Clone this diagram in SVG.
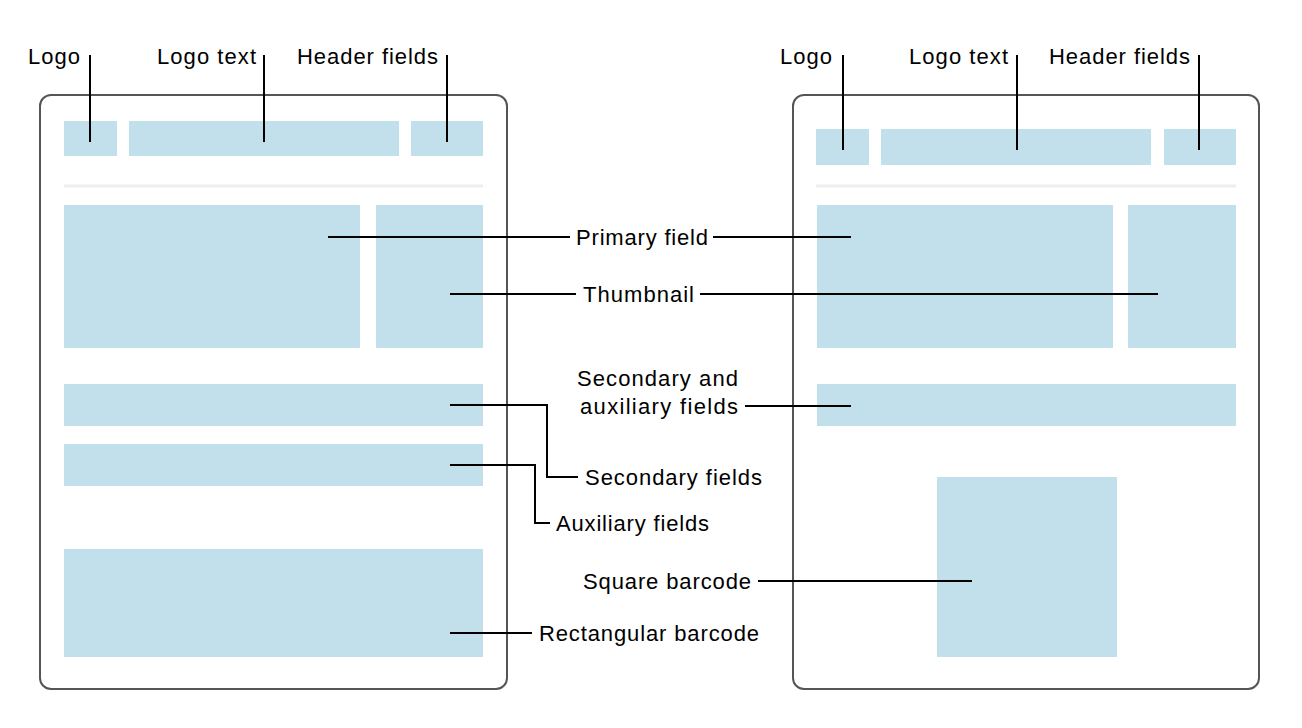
<svg xmlns="http://www.w3.org/2000/svg" width="1302" height="728" viewBox="0 0 1302 728">
<style>
.frame{fill:#fff;stroke:#555;stroke-width:2}
.f{fill:#c2e0eb}
.sep{stroke:#eee;stroke-width:3}
.c{fill:none;stroke:#000;stroke-width:2}
text{font-family:"Liberation Sans",Arial,sans-serif;font-size:22px;fill:#000}
</style>
<rect width="1302" height="728" fill="#fff"/>
<g id="left-pass">
<rect class="frame" x="40" y="95" width="467" height="594" rx="11"/>
<rect class="f" x="64" y="121" width="53" height="35"/>
<rect class="f" x="129" y="121" width="270" height="35"/>
<rect class="f" x="411" y="121" width="72" height="35"/>
<line class="sep" x1="64" y1="186" x2="483" y2="186"/>
<rect class="f" x="64" y="205" width="296" height="143"/>
<rect class="f" x="376" y="205" width="107" height="143"/>
<rect class="f" x="64" y="384" width="419" height="42"/>
<rect class="f" x="64" y="444" width="419" height="42"/>
<rect class="f" x="64" y="549" width="419" height="108"/>
</g>
<g id="right-pass">
<rect class="frame" x="793" y="95" width="466" height="594" rx="11"/>
<rect class="f" x="816" y="129" width="53" height="36"/>
<rect class="f" x="881" y="129" width="270" height="36"/>
<rect class="f" x="1164" y="129" width="72" height="36"/>
<line class="sep" x1="816" y1="186" x2="1236" y2="186"/>
<rect class="f" x="817" y="205" width="296" height="143"/>
<rect class="f" x="1128" y="205" width="108" height="143"/>
<rect class="f" x="817" y="384" width="419" height="42"/>
<rect class="f" x="937" y="477" width="180" height="180"/>
</g>
<g id="labels">
<text x="28" y="64" textLength="52">Logo</text>
<text x="157" y="64" textLength="99">Logo text</text>
<text x="297" y="64" textLength="141">Header fields</text>
<text x="780" y="64" textLength="52">Logo</text>
<text x="909" y="64" textLength="99">Logo text</text>
<text x="1049" y="64" textLength="141">Header fields</text>
<text x="576" y="245" textLength="132">Primary field</text>
<text x="583" y="302" textLength="111">Thumbnail</text>
<text x="577" y="386" textLength="161">Secondary and</text>
<text x="580" y="414" textLength="158">auxiliary fields</text>
<text x="585" y="485" textLength="177">Secondary fields</text>
<text x="556" y="531" textLength="153">Auxiliary fields</text>
<text x="583" y="589" textLength="168">Square barcode</text>
<text x="539" y="641" textLength="220">Rectangular barcode</text>
</g>
<g id="connectors">
<path class="c" d="M90 55V142M264 55V142M447 55V142M843 55V150M1017 55V150M1199 55V150"/>
<path class="c" d="M328 237H570M713 237H851"/>
<path class="c" d="M450 294H576M700 294H1158"/>
<path class="c" d="M745 406H851"/>
<path class="c" d="M450 405H547V477H578"/>
<path class="c" d="M450 465H535V523H550"/>
<path class="c" d="M758 581H972"/>
<path class="c" d="M450 633H532"/>
</g>
</svg>
